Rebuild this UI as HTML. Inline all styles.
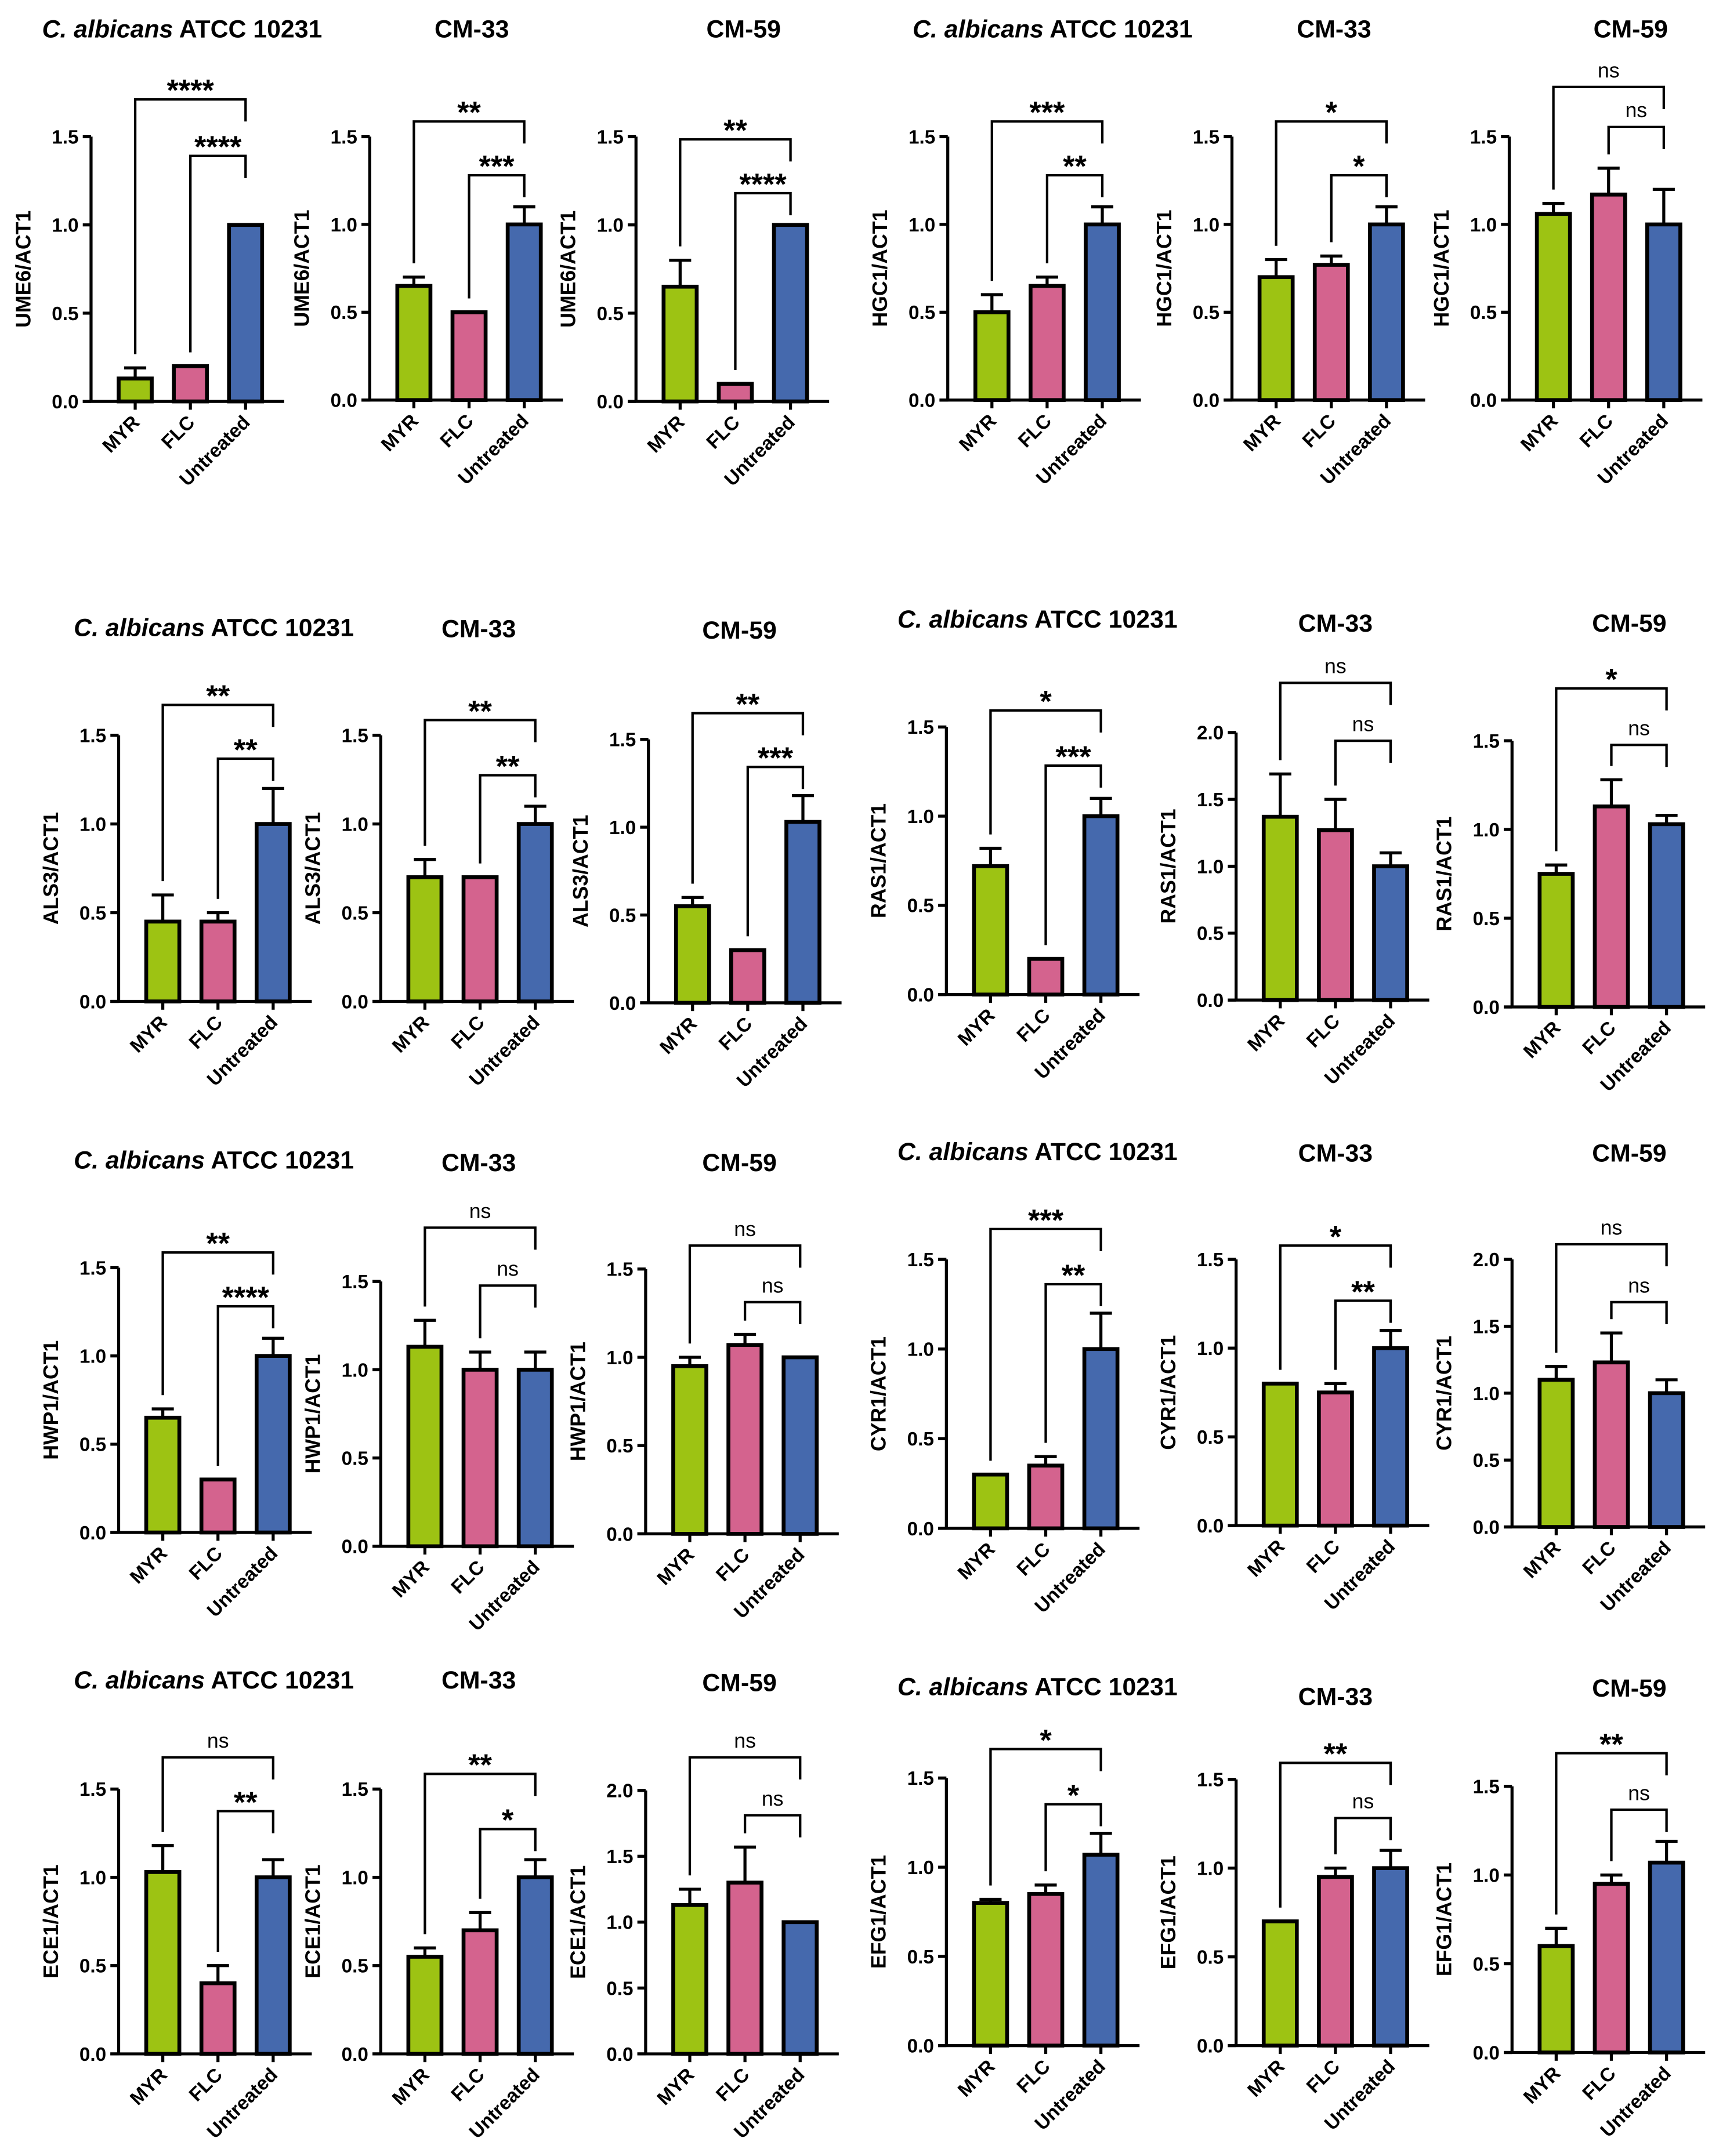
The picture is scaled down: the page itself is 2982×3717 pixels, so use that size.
<!DOCTYPE html>
<html><head><meta charset="utf-8"><style>
html,body{margin:0;padding:0;background:#fff}
svg{display:block}
text{font-family:"Liberation Sans",Arial,sans-serif;fill:#000}
</style></head><body>
<svg id="fig" width="2982" height="3717" viewBox="0 0 1254 1563" xmlns="http://www.w3.org/2000/svg"></svg>
<script>
const categories = ["MYR","FLC","Untreated"];
const colors = ["#9dc313","#d4638e","#4569ad"];
const titles = ["ATCC","CM-33","CM-59","ATCC","CM-33","CM-59"];
const genes = ["UME6","HGC1","ALS3","RAS1","HWP1","CYR1","ECE1","EFG1"];
const values = [
 [0.13,0.2,1.0],[0.65,0.5,1.0],[0.65,0.1,1.0],[0.5,0.65,1.0],[0.7,0.77,1.0],[1.06,1.17,1.0],
 [0.45,0.45,1.0],[0.7,0.7,1.0],[0.55,0.3,1.03],[0.72,0.2,1.0],[1.37,1.27,1.0],[0.75,1.13,1.03],
 [0.65,0.3,1.0],[1.13,1.0,1.0],[0.95,1.07,1.0],[0.3,0.35,1.0],[0.8,0.75,1.0],[1.1,1.23,1.0],
 [1.03,0.4,1.0],[0.55,0.7,1.0],[1.13,1.3,1.0],[0.8,0.85,1.07],[0.7,0.95,1.0],[0.6,0.95,1.07]
];
const errors = [
 [0.06,0,0],[0.05,0,0.1],[0.15,0,0],[0.1,0.05,0.1],[0.1,0.05,0.1],[0.06,0.15,0.2],
 [0.15,0.05,0.2],[0.1,0,0.1],[0.05,0,0.15],[0.1,0,0.1],[0.32,0.23,0.1],[0.05,0.15,0.05],
 [0.05,0,0.1],[0.15,0.1,0.1],[0.05,0.06,0],[0,0.05,0.2],[0,0.05,0.1],[0.1,0.22,0.1],
 [0.15,0.1,0.1],[0.05,0.1,0.1],[0.12,0.27,0],[0.02,0.05,0.12],[0,0.05,0.1],[0.1,0.05,0.12]
];
const yMaxes = [1.5,1.5,1.5,1.5,1.5,1.5, 1.5,1.5,1.5,1.5,2.0,1.5, 1.5,1.5,1.5,1.5,1.5,2.0, 1.5,1.5,2.0,1.5,1.5,1.5];
const sigLong = ["****","**","**","***","*","ns", "**","**","**","*","ns","*", "**","ns","ns","***","*","ns", "ns","**","ns","*","**","**"];
const sigShort = ["****","***","****","**","*","ns", "**","**","***","***","ns","ns", "****","ns","ns","**","**","ns", "**","*","ns","*","ns","ns"];
// layout (pixels, not data)
const axX = [66,268,461,687,893,1094, 86,276,470,686,896,1096, 86,276,468,686,896,1096, 86,276,468,686,896,1096];
const axY0 = [291,290,291,290,290,290, 726,726,727,721,725,730, 1111,1121,1112,1108,1106,1107, 1489,1489,1489,1483,1483,1488];
const axYTop = [99,99,99,99,99,99, 533,533,536,527,531,537, 919,929,920,913,913,913, 1297,1297,1298,1289,1290,1295];
const brTopL = [72,88,101,88,88,63, 511,522,517,515,495,499, 908,890,903,891,903,902, 1274,1286,1274,1268,1278,1271];
const brTopS = [113,127,140,127,127,92, 550,562,556,555,537,540, 947,932,944,931,943,944, 1313,1326,1316,1308,1318,1312];
const titleX = [132,342,539,763,967,1182, 155,347,536,752,968,1181, 155,347,536,752,968,1181, 155,347,536,752,968,1181];
const titleY = [27,27,27,27,27,27, 461,462,463,455,458,458, 847,849,849,841,842,842, 1224,1224,1226,1229,1236,1230];

const NS="http://www.w3.org/2000/svg";
const svg=document.getElementById('fig');
function mk(tag,attrs,parent){const e=document.createElementNS(NS,tag);for(const k in attrs)e.setAttribute(k,attrs[k]);(parent||svg).appendChild(e);return e;}

for(let p=0;p<24;p++){
  const g=mk('g',{});
  
  
  const ax=axX[p], y0=axY0[p], yt=axYTop[p], ym=yMaxes[p];
  const scale=(yt-y0)/ym;
  const yS=v=>y0+v*scale;
  const xS=i=>ax+32+i*40;
  const gene=genes[Math.floor(p/6)*2+(p%6>=3?1:0)];
  const t=mk('text',{x:titleX[p],y:titleY[p],'text-anchor':'middle','font-size':18,'font-weight':'bold'},g);
  
  
  if(titles[p%6]==='ATCC'){
    const a=mk('tspan',{'font-style':'italic'},t);a.textContent='C. albicans';
    const b=mk('tspan',{},t);b.textContent=' ATCC 10231';
  } else t.textContent=titles[p%6];
  const yl=mk('text',{x:0,y:0,'text-anchor':'middle','font-size':15,'font-weight':'bold'},g);
  yl.setAttribute('transform',`translate(${ax-44},${yS(ym/2)}) rotate(-90)`);
  yl.textContent=gene+'/ACT1';
  
  
  const ya=mk('line',{x1:ax,y1:yS(ym),x2:ax,y2:y0+1,stroke:'#000','stroke-width':2.2},g);
  
  
  const xa=mk('line',{x1:ax-6,y1:y0,x2:ax+140,y2:y0,stroke:'#000','stroke-width':2.2},g);
  
  
  for(let v=0;v<=ym+1e-9;v+=0.5){
    const y=yS(v);
    mk('line',{x1:ax-6,y1:y,x2:ax,y2:y,stroke:'#000','stroke-width':2.2},g);
    const tl=mk('text',{x:ax-9,y:y+5,'text-anchor':'end','font-size':14,'font-weight':'bold'},g);
    tl.textContent=v.toFixed(1);
    
    
  }
  for(let i=0;i<3;i++){
    const v=values[p][i], e=errors[p][i], cx=xS(i);
    if(e>0){
      const el=mk('line',{x1:cx,y1:yS(v),x2:cx,y2:yS(v+e),stroke:'#000','stroke-width':2.2},g);
      
      
      mk('line',{x1:cx-8,y1:yS(v+e),x2:cx+8,y2:yS(v+e),stroke:'#000','stroke-width':2.2},g);
    }
    const r=mk('rect',{x:cx-12,y:yS(v),width:24,height:y0-yS(v),fill:colors[i],stroke:'#000','stroke-width':2.8},g);
    
    
    mk('line',{x1:cx,y1:y0,x2:cx,y2:y0+6,stroke:'#000','stroke-width':2.2},g);
    const cl=mk('text',{x:0,y:0,transform:`translate(${cx+4},${y0+16}) rotate(-45)`,'text-anchor':'end','font-size':14,'font-weight':'bold'},g);
    cl.textContent=categories[i];
    
    
  }
  const topOf=i=>yS(values[p][i]+errors[p][i]);
  const drawBr=(i1,top,lab,name)=>{
    const x1=xS(i1),x2=xS(2);
    const path=mk('path',{d:`M${x1},${topOf(i1)-10} L${x1},${top} L${x2},${top} L${x2},${top+16}`,fill:'none',stroke:'#000','stroke-width':1.8},g);
    
    
    const isNs=lab==='ns';
    const tx=mk('text',{x:(x1+x2)/2,y:isNs?top-7:top+1,'text-anchor':'middle','font-size':isNs?15:22,'font-weight':isNs?'normal':'bold'},g);
    tx.textContent=lab;
    
    
  };
  drawBr(0,brTopL[p],sigLong[p],'bracket-myr-untreated');
  drawBr(1,brTopS[p],sigShort[p],'bracket-flc-untreated');
}
</script>
</body></html>
